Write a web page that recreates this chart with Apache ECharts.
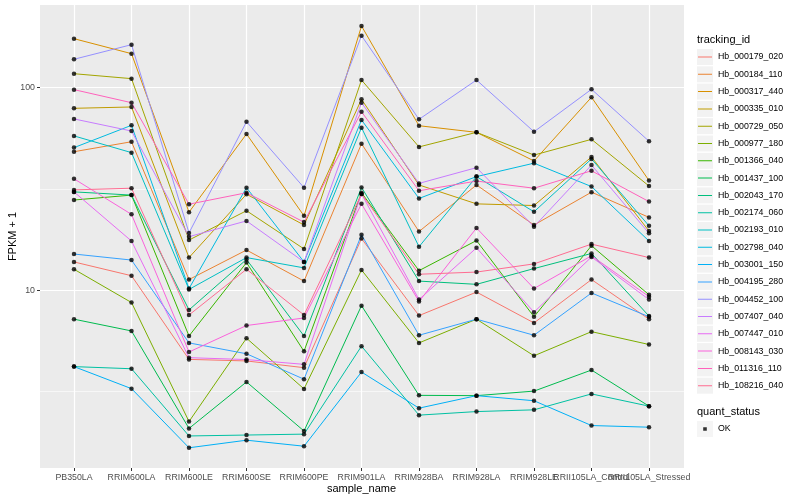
<!DOCTYPE html>
<html><head><meta charset="utf-8">
<script src="https://cdn.jsdelivr.net/npm/echarts@6/dist/echarts.min.js"></script>
<style>html,body{margin:0;padding:0;background:#fff}#c{width:800px;height:500px}</style>
</head><body><div id="c"></div>
<script>
// ---- data ----
const categories = ['PB350LA','RRIM600LA','RRIM600LE','RRIM600SE','RRIM600PE','RRIM901LA','RRIM928BA','RRIM928LA','RRIM928LE','RRII105LA_Control','RRII105LA_Stressed'];
const trackingIds = ['Hb_000179_020','Hb_000184_110','Hb_000317_440','Hb_000335_010','Hb_000729_050','Hb_000977_180','Hb_001366_040','Hb_001437_100','Hb_002043_170','Hb_002174_060','Hb_002193_010','Hb_002798_040','Hb_003001_150','Hb_004195_280','Hb_004452_100','Hb_007407_040','Hb_007447_010','Hb_008143_030','Hb_011316_110','Hb_108216_040'];
const Hb_000179_020 = [13.8, 11.8, 4.56, 4.48, 4.15, 18.0, 7.5, 9.8, 6.9, 11.3, 7.2];
const Hb_000184_110 = [48.3, 54.1, 11.3, 15.8, 11.1, 52.9, 19.5, 33.1, 21.0, 30.5, 22.9];
const Hb_000317_440 = [174.5, 147.2, 24.3, 59.1, 23.3, 201.6, 64.9, 60.2, 43.5, 89.7, 34.8];
const Hb_000335_010 = [79.1, 80.3, 14.5, 29.8, 21.0, 87.6, 33.1, 26.7, 26.2, 45.5, 19.6];
const Hb_000729_050 = [117.2, 110.8, 17.7, 24.7, 16.0, 109.1, 51.0, 60.2, 46.5, 55.6, 32.7];
const Hb_000977_180 = [12.7, 8.7, 2.25, 5.8, 3.26, 12.6, 5.5, 7.2, 4.75, 6.25, 5.4];
const Hb_001366_040 = [27.9, 29.5, 5.95, 13.7, 5.0, 30.3, 12.5, 17.6, 7.4, 16.6, 9.5];
const Hb_001437_100 = [7.2, 6.3, 2.08, 3.53, 2.02, 8.4, 3.03, 3.02, 3.18, 4.04, 2.68];
const Hb_002043_170 = [30.6, 29.5, 8.0, 14.2, 5.95, 32.2, 11.1, 10.7, 12.8, 15.2, 7.46];
const Hb_002174_060 = [4.2, 4.1, 1.91, 1.93, 1.95, 5.3, 2.42, 2.52, 2.57, 3.08, 2.68];
const Hb_002193_010 = [57.8, 47.8, 10.1, 14.5, 12.9, 63.5, 16.4, 36.4, 24.4, 44.5, 20.8];
const Hb_002798_040 = [50.6, 65.2, 10.2, 32.1, 13.8, 69.3, 28.4, 36.4, 42.4, 32.5, 17.5];
const Hb_003001_150 = [4.2, 3.27, 1.67, 1.82, 1.70, 3.95, 2.62, 3.02, 2.85, 2.15, 2.11];
const Hb_004195_280 = [15.1, 14.1, 5.5, 4.86, 3.64, 18.8, 6.0, 7.2, 6.0, 9.7, 7.4];
const Hb_004452_100 = [138.1, 163.0, 19.2, 67.9, 32.1, 180.6, 69.8, 109.1, 60.6, 98.2, 54.4];
const Hb_007407_040 = [70.1, 61.1, 18.4, 22.0, 13.8, 84.3, 33.7, 40.3, 20.6, 41.5, 19.1];
const Hb_007447_010 = [30.6, 17.5, 4.65, 4.55, 4.31, 29.9, 9.0, 16.2, 7.8, 14.6, 9.0];
const Hb_008143_030 = [35.5, 23.7, 4.96, 6.7, 7.3, 26.7, 8.8, 20.3, 10.2, 14.8, 9.3];
const Hb_011316_110 = [97.8, 84.3, 26.6, 30.3, 21.7, 76.1, 31.0, 34.6, 31.9, 38.9, 27.4];
const Hb_108216_040 = [31.3, 31.9, 7.55, 12.7, 7.55, 29.9, 12.0, 12.3, 13.5, 16.9, 14.5];
const seriesValues = [Hb_000179_020, Hb_000184_110, Hb_000317_440, Hb_000335_010, Hb_000729_050, Hb_000977_180, Hb_001366_040, Hb_001437_100, Hb_002043_170, Hb_002174_060, Hb_002193_010, Hb_002798_040, Hb_003001_150, Hb_004195_280, Hb_004452_100, Hb_007407_040, Hb_007447_010, Hb_008143_030, Hb_011316_110, Hb_108216_040];
const quantStatus = ['OK'];
const yTicks = [10, 100];
const yMinorGrid = [3.1623, 31.623];
const yRange = [1.327, 255.9];

// ---- styles ----
const lineColors = ['#F8766D','#EA8331','#D89000','#C09B00','#A3A500','#7CAE00','#39B600','#00BB4E','#00BF7D','#00C1A3','#00BFC4','#00BAE0','#00B0F6','#35A2FF','#9590FF','#C77CFF','#E76BF3','#FA62DB','#FF62BC','#FF6C91'];
const FONT = '"Liberation Sans", Arial, Helvetica, sans-serif';
const keyLine = 'path://M0,0H0.01V0.01H0Z M1,7.5H15V8.5H1Z M15.99,15.99H16V16H15.99Z';
const keyPoint = 'path://M0,0H0.01V0.01H0Z M6.2,6.2H9.8V9.8H6.2Z M15.99,15.99H16V16H15.99Z';

const chart = echarts.init(document.getElementById('c'));

const lineSeries = trackingIds.map((id, i) => ({
  name: id, type: 'line', xAxisIndex: 1, yAxisIndex: 1, data: seriesValues[i],
  symbol: 'none', showSymbol: false, z: 3, silent: true,
  lineStyle: { color: lineColors[i], width: 1 },
  itemStyle: { color: lineColors[i], borderWidth: 0 },
  emphasis: { disabled: true }
}));
const pointData = [];
seriesValues.forEach(arr => arr.forEach((v, j) => pointData.push([j, v])));
const pointSeries = {
  name: quantStatus[0], type: 'scatter', xAxisIndex: 1, yAxisIndex: 1, data: pointData,
  symbol: 'circle', symbolSize: 4.5, itemStyle: { color: '#000' }, z: 4, silent: true
};
const gridSeries = {
  name: 'grid', type: 'line', xAxisIndex: 0, yAxisIndex: 0, data: [], z: 1, silent: true,
  markLine: {
    silent: true, symbol: ['none', 'none'], z: 1, label: { show: false }, animation: false,
    data: yTicks.map(v => ({ yAxis: v, lineStyle: { color: '#fff', width: 1.2, type: 'solid' } }))
      .concat(yMinorGrid.map(v => ({ yAxis: v, lineStyle: { color: '#fff', width: 0.6, type: 'solid' } })))
  }
};

const legendBase = { orient: 'vertical', left: 697, itemWidth: 16, itemHeight: 16, itemGap: 1.3, padding: 0, selectedMode: false };

chart.setOption({
  animation: false,
  backgroundColor: '#fff',
  title: [
    { text: 'tracking_id', left: 697, top: 34, padding: 0, textStyle: { fontSize: 11, fontWeight: 'normal', color: '#000', fontFamily: FONT } },
    { text: 'quant_status', left: 697, top: 406, padding: 0, textStyle: { fontSize: 11, fontWeight: 'normal', color: '#000', fontFamily: FONT } }
  ],
  legend: [
    Object.assign({}, legendBase, { data: trackingIds, top: 49, z: 4, icon: 'rect', itemStyle: { color: '#F2F2F2', borderWidth: 0 }, textStyle: { color: 'rgba(0,0,0,0)', fontSize: 8.8, fontFamily: FONT } }),
    Object.assign({}, legendBase, { data: trackingIds, top: 49, z: 5, icon: keyLine, itemStyle: { borderWidth: 0 }, textStyle: { color: '#000', fontSize: 8.8, fontFamily: FONT } }),
    Object.assign({}, legendBase, { data: quantStatus, top: 421, z: 4, icon: 'rect', itemStyle: { color: '#F2F2F2', borderWidth: 0 }, textStyle: { color: 'rgba(0,0,0,0)', fontSize: 8.8, fontFamily: FONT } }),
    Object.assign({}, legendBase, { data: quantStatus, top: 421, z: 5, icon: keyPoint, itemStyle: { color: '#000', borderWidth: 0 }, textStyle: { color: '#000', fontSize: 8.8, fontFamily: FONT } })
  ],
  grid: [
    { left: 40, right: 116, top: 5, bottom: 32, show: true, backgroundColor: '#EBEBEB', borderWidth: 0, containLabel: false, outerBoundsMode: 'none' },
    { left: 74, right: 151, top: 5, bottom: 32, show: false, containLabel: false, outerBoundsMode: 'none' }
  ],
  xAxis: [
    { gridIndex: 0, type: 'value', min: 0, max: 1, show: false },
    {
      gridIndex: 1, type: 'category', data: categories, boundaryGap: false,
      axisLine: { show: false },
      axisTick: { show: true, length: 3, lineStyle: { color: '#333', width: 1 } },
      axisLabel: { interval: 0, margin: 5, color: '#4D4D4D', fontSize: 8.8, fontFamily: FONT, hideOverlap: false },
      splitLine: { show: true, lineStyle: { color: '#fff', width: 1.2 } },
      name: 'sample_name', nameLocation: 'middle', nameGap: 15, nameMoveOverlap: false,
      nameTextStyle: { color: '#000', fontSize: 11, fontFamily: FONT }
    }
  ],
  yAxis: [
    {
      gridIndex: 0, type: 'log', logBase: 10, min: yRange[0], max: yRange[1],
      axisLine: { show: false },
      axisTick: { show: true, length: 3, customValues: yTicks, lineStyle: { color: '#333', width: 1 } },
      axisLabel: { show: true, customValues: yTicks, margin: 5, color: '#4D4D4D', fontSize: 8.8, fontFamily: FONT },
      splitLine: { show: false },
      name: 'FPKM + 1', nameLocation: 'middle', nameGap: 22, nameMoveOverlap: false,
      nameTextStyle: { color: '#000', fontSize: 11, fontFamily: FONT }
    },
    { gridIndex: 1, type: 'log', logBase: 10, min: yRange[0], max: yRange[1], show: false, splitLine: { show: false } }
  ],
  series: [gridSeries].concat(lineSeries, [pointSeries])
});
</script>
</body></html>
